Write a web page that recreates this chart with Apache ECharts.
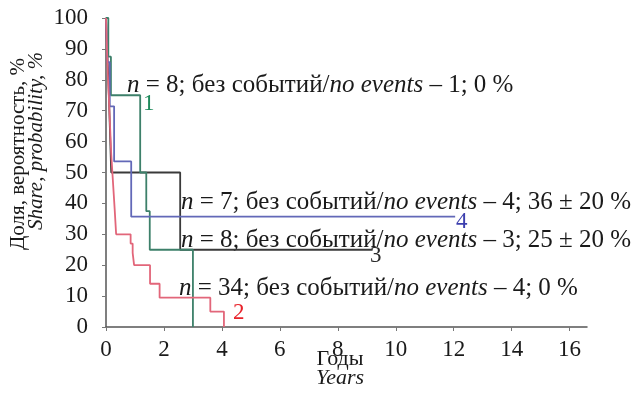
<!DOCTYPE html>
<html>
<head>
<meta charset="utf-8">
<script src="https://cdn.jsdelivr.net/npm/echarts@6/dist/echarts.min.js"></script>
<style>
  html, body { margin: 0; padding: 0; background: #fff; }
  #chart { width: 636px; height: 407px; }
</style>
</head>
<body>
<div id="chart"></div>
<script>
// Kaplan-Meier style step curves: [years, share %]
const curve1 = [[0, 100], [0.08, 87.5], [0.17, 75], [1.18, 50], [1.39, 37.5], [1.51, 25], [3.0, 0]];
const curve2 = [[0, 100], [0.03, 91], [0.06, 82], [0.1, 74], [0.14, 65], [0.18, 56], [0.22, 50],
    [0.26, 44], [0.3, 38], [0.35, 30], [0.85, 27], [0.92, 24], [0.97, 20], [1.52, 14],
    [1.85, 9.5], [3.6, 5], [4.07, 0]];
const curve3 = [[0, 100], [0.05, 87.5], [0.1, 75], [0.14, 62.5], [0.18, 50], [2.56, 25], [9.2, 25]];
const curve4 = [[0, 100], [0.05, 85.7], [0.13, 71.4], [0.28, 53.6], [0.87, 35.7], [12.05, 35.7]];

const xTicks = [0, 2, 4, 6, 8, 10, 12, 14, 16];

const notes = [
    '{i|n} = 8; без событий/{i|no events} – 1; 0 %',
    '{i|n} = 7; без событий/{i|no events} – 4; 36 ± 20 %',
    '{i|n} = 8; без событий/{i|no events} – 3; 25 ± 20 %',
    '{i|n} = 34; без событий/{i|no events} – 4; 0 %'
];
const curveNames = ['1', '2', '3', '4'];

const FONT = '"Liberation Serif", serif';
const colors = ['#3d806a', '#e2667a', '#3a3a3a', '#6268b8'];
const nameColors = ['#1f8a5c', '#e8232b', '#2a2a2a', '#3c3fae'];

const chart = echarts.init(document.getElementById('chart'));

function stepSeries(data, color) {
    return {
        type: 'line',
        step: 'end',
        data: data,
        symbol: 'none',
        lineStyle: {color: color, width: 1.8},
        animation: false
    };
}

function txt(text, x, y, size, color, opts) {
    return {
        type: 'text',
        x: x, y: y,
        rotation: (opts && opts.rotation) || 0,
        style: {
            text: text,
            fontFamily: FONT,
            fontSize: size,
            fontStyle: (opts && opts.italic) ? 'italic' : 'normal',
            fill: color,
            align: (opts && opts.align) || 'left',
            verticalAlign: 'middle',
            rich: {i: {fontStyle: 'italic', fontSize: size, fontFamily: FONT, fill: color}}
        }
    };
}

const option = {
    backgroundColor: '#fff',
    grid: {left: 106, right: 49, top: 18, bottom: 80},
    xAxis: {
        type: 'value',
        min: 0,
        max: 16.6,
        axisLine: {lineStyle: {color: '#555', width: 1.5}},
        axisTick: {customValues: xTicks, length: 4, lineStyle: {color: '#777'}},
        axisLabel: {customValues: xTicks, fontFamily: FONT, fontSize: 23, color: '#1a1a1a', margin: 11},
        splitLine: {show: false}
    },
    yAxis: {
        type: 'value',
        min: 0,
        max: 100,
        interval: 10,
        axisLine: {show: true, lineStyle: {color: '#555', width: 1.5}},
        axisTick: {show: true, length: 4, lineStyle: {color: '#777'}},
        axisLabel: {fontFamily: FONT, fontSize: 23, color: '#1a1a1a', margin: 18},
        splitLine: {show: false}
    },
    series: [
        stepSeries(curve3, colors[2]),
        stepSeries(curve1, colors[0]),
        stepSeries(curve4, colors[3]),
        stepSeries(curve2, colors[1])
    ],
    graphic: [
        txt(notes[0], 127, 85, 25, '#1a1a1a'),
        txt(notes[1], 181, 202, 25, '#1a1a1a'),
        txt(notes[2], 181, 240, 25, '#1a1a1a'),
        txt(notes[3], 179, 288, 25, '#1a1a1a'),
        txt(curveNames[0], 143, 104, 23, nameColors[0]),
        txt(curveNames[1], 233, 313, 23, nameColors[1]),
        txt(curveNames[2], 370, 256, 23, nameColors[2]),
        txt(curveNames[3], 456, 222, 23, nameColors[3]),
        txt('Доля, вероятность, %', 18, 154, 21, '#1a1a1a', {rotation: Math.PI / 2, align: 'center'}),
        txt('Share, probability, %', 36, 141, 21, '#1a1a1a', {rotation: Math.PI / 2, align: 'center', italic: true}),
        txt('Годы', 340, 359, 22, '#1a1a1a', {align: 'center'}),
        txt('Years', 340, 378, 22, '#1a1a1a', {align: 'center', italic: true})
    ]
};

chart.setOption(option);
</script>
</body>
</html>
